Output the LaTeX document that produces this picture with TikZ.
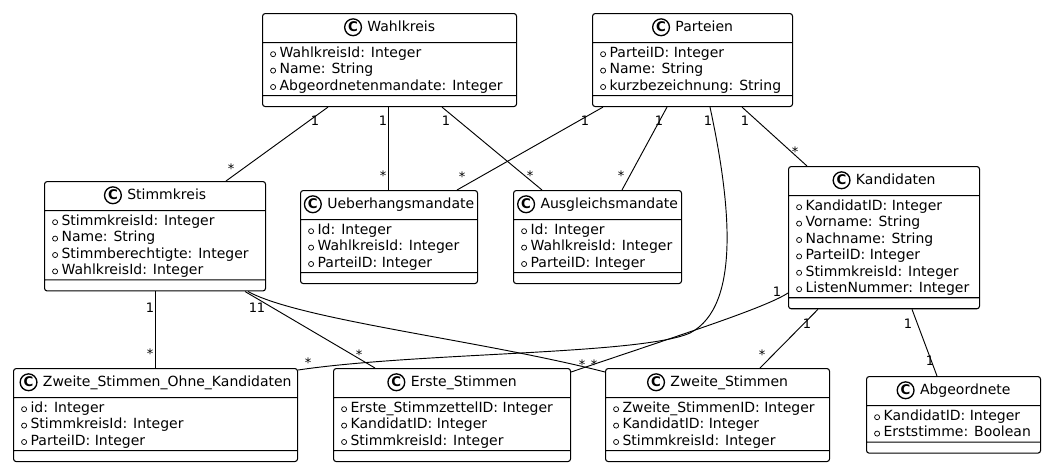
\documentclass[tikz,border=0pt]{standalone}
\usepackage{fontspec}
\setmainfont{DejaVu Sans}
\usetikzlibrary{shapes.multipart, calc}
\renewcommand{\arraystretch}{0.5}
% class icon, public field marker, title strut
\newcommand{\ci}{\makebox[13.6pt]{\tikz[baseline={(0,-3.5pt)}]\draw[line width=1pt] (0,0) circle (6.3pt);}\hspace{-13.6pt}\makebox[13.6pt]{\fontsize{10}{10}\selectfont\bfseries C}\hspace{4pt}}
\newcommand{\vi}{\rule[-2.5pt]{0pt}{12.3pt}\hspace{3.5pt}\tikz[baseline={(0,-2.5pt)}]\draw[line width=0.55pt] (0,0) circle (1.9pt);\hspace{2.7pt}}
\newcommand{\ts}{\rule[-6.6pt]{0pt}{19pt}}

\begin{document}
\begin{tikzpicture}[x=0.75pt, y=-0.75pt,
  every node/.style={font=\fontsize{10.5}{12.75}\selectfont},
  cls/.style={rectangle split, rectangle split parts=3, rectangle split part align={center,left,left},
    rectangle split empty part height=4pt, rectangle split empty part depth=0pt,
    draw, line width=0.8pt, rounded corners=2pt, inner xsep=2.25pt, inner ysep=1pt, anchor=north west},
  ln/.style={line width=0.7pt},
  ml/.style={font=\fontsize{9.75}{10}\selectfont, inner sep=0pt, anchor=base}]
\useasboundingbox (0,0) rectangle (1046,465);
\node[cls, minimum width=190.5pt] (wk) at (262,13) {\ci Wahlkreis\ts
  \nodepart{two}\begin{tabular}{@{}l@{}}\vi WahlkreisId: Integer\\ \vi Name: String\\ \vi Abgeordnetenmandate: Integer\end{tabular}
  \nodepart{three}};
\node[cls, minimum width=150pt] (pt) at (592,13) {\ci Parteien\ts
  \nodepart{two}\begin{tabular}{@{}l@{}}\vi ParteiID: Integer\\ \vi Name: String\\ \vi kurzbezeichnung: String\end{tabular}
  \nodepart{three}};
\node[cls, minimum width=165.75pt] (sk) at (44,181) {\ci Stimmkreis\ts
  \nodepart{two}\begin{tabular}{@{}l@{}}\vi StimmkreisId: Integer\\ \vi Name: String\\ \vi Stimmberechtigte: Integer\\ \vi WahlkreisId: Integer\end{tabular}
  \nodepart{three}};
\node[cls, minimum width=132.75pt] (um) at (300,190) {\ci Ueberhangsmandate\ts
  \nodepart{two}\begin{tabular}{@{}l@{}}\vi Id: Integer\\ \vi WahlkreisId: Integer\\ \vi ParteiID: Integer\end{tabular}
  \nodepart{three}};
\node[cls, minimum width=126pt] (am) at (513,190) {\ci Ausgleichsmandate\ts
  \nodepart{two}\begin{tabular}{@{}l@{}}\vi Id: Integer\\ \vi WahlkreisId: Integer\\ \vi ParteiID: Integer\end{tabular}
  \nodepart{three}};
\node[cls, minimum width=143.25pt] (kd) at (788,166) {\ci Kandidaten\ts
  \nodepart{two}\begin{tabular}{@{}l@{}}\vi KandidatID: Integer\\ \vi Vorname: String\\ \vi Nachname: String\\ \vi ParteiID: Integer\\ \vi StimmkreisId: Integer\\ \vi ListenNummer: Integer\end{tabular}
  \nodepart{three}};
\node[cls, minimum width=213pt] (zo) at (13,368) {\ci Zweite\_Stimmen\_Ohne\_Kandidaten\ts
  \nodepart{two}\begin{tabular}{@{}l@{}}\vi id: Integer\\ \vi StimmkreisId: Integer\\ \vi ParteiID: Integer\end{tabular}
  \nodepart{three}};
\node[cls, minimum width=177.75pt] (es) at (333,368) {\ci Erste\_Stimmen\ts
  \nodepart{two}\begin{tabular}{@{}l@{}}\vi Erste\_StimmzettelID: Integer\\ \vi KandidatID: Integer\\ \vi StimmkreisId: Integer\end{tabular}
  \nodepart{three}};
\node[cls, minimum width=168pt] (zs) at (605,368) {\ci Zweite\_Stimmen\ts
  \nodepart{two}\begin{tabular}{@{}l@{}}\vi Zweite\_StimmenID: Integer\\ \vi KandidatID: Integer\\ \vi StimmkreisId: Integer\end{tabular}
  \nodepart{three}};
\node[cls, minimum width=130.5pt] (ab) at (866,376) {\ci Abgeordnete\ts
  \nodepart{two}\begin{tabular}{@{}l@{}}\vi KandidatID: Integer\\ \vi Erststimme: Boolean\end{tabular}
  \nodepart{three}};
% associations
\draw[ln] ($(wk.south west)+(66,0)$) -- ($(sk.north west)+(182,0)$);
\draw[ln] ($(wk.south west)+(126,0)$) -- ($(um.north west)+(88,0)$);
\draw[ln] ($(wk.south west)+(180,0)$) -- ($(am.north west)+(29,0)$);
\draw[ln] ($(pt.south west)+(11,0)$) -- ($(um.north west)+(157,0)$);
\draw[ln] ($(pt.south west)+(75,0)$) -- ($(am.north west)+(109,0)$);
\draw[ln] ($(pt.south west)+(118,0)$) .. controls (730,200) and (742,306) .. (690,333)
  .. controls (640,355) and (420,352) .. ($(zo.north east)+(0,2)$);
\draw[ln] ($(pt.south west)+(150,0)$) -- ($(kd.north west)+(19,0)$);
\draw[ln] ($(sk.south west)+(111,0)$) -- ($(zo.north west)+(142,0)$);
\draw[ln] ($(sk.south west)+(201,0)$) -- ($(es.north west)+(42,0)$);
\draw[ln] ($(sk.south west)+(204,0)$) .. controls (300,320) and (480,340) .. ($(zs.north west)+(0,4)$);
\draw[ln] ($(kd.north west)+(0,127)$) .. controls (765,308) and (680,335) .. ($(es.north east)+(0,4)$);
\draw[ln] ($(kd.south west)+(30,0)$) -- ($(zs.north west)+(155,0)$);
\draw[ln] ($(kd.south west)+(124,0)$) -- ($(ab.north west)+(71,0)$);
% multiplicities
\foreach \x/\y/\lb [count=\i] in {315/125/1, 383/125/1, 446/125/1, 585/125/1, 659/125/1, 708/125/1, 745/125/1,
  231/173/*, 383/180/*, 530/180/*, 462/181/*, 621/180/*, 795/156/*,
  150/312/1, 253/312/1, 261/312/1, 777/296/1, 807/328/1, 908/328/1, 930/365/1,
  150/358/*, 308/367/*, 359/359/*, 582/369/*, 594/369/*, 762/359/*}
  \node[ml] (m\i) at (\x,\y) {\lb};
\end{tikzpicture}
\end{document}
